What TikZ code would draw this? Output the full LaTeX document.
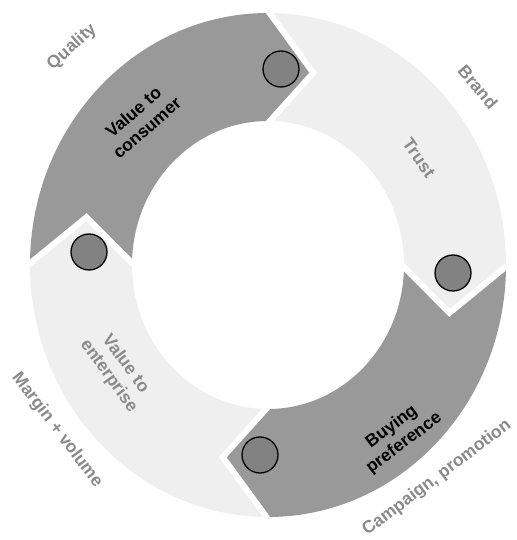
\documentclass[tikz,border=0pt]{standalone}
\usepackage{fontspec}
\setmainfont{Liberation Sans}
\definecolor{darkseg}{HTML}{999999}
\definecolor{lightseg}{HTML}{EFEFEF}
\definecolor{dotgrey}{HTML}{828282}
\definecolor{labgrey}{HTML}{8A8A8A}
\newcommand\ringseg[3]{%
  \fill[#3] (#1:\Ro) arc[start angle=#1,end angle=#2,radius=\Ro]
    -- (#2-\dd:\Rm) -- (#2:\Ri) arc[start angle=#2,end angle=#1,radius=\Ri]
    -- (#1-\dd:\Rm) -- cycle;}
\newcommand\ringgap[1]{%
  \draw[gapline] (#1:\Ro+2) -- (#1-\dd:\Rm) -- (#1:\Ri-2);}
\begin{document}
\begin{tikzpicture}[x=1pt,y=1pt,
  gapline/.style={draw=white,line width=6pt,line join=miter},
  dot/.style={circle,draw=black,line width=1.3pt,fill=dotgrey,minimum size=36pt,inner sep=0pt},
  inlab/.style={font=\bfseries\fontsize{17.5}{20.5}\selectfont,align=center},
  outlab/.style={font=\bfseries\fontsize{17.5}{19}\selectfont,text=labgrey}]
\useasboundingbox (0,0) rectangle (516,540);
\begin{scope}[shift={(268,275)},yscale=1.0588]
  \def\Ro{238}\def\Ri{136}\def\Rm{187}\def\dd{14}
  \ringseg{270}{180}{lightseg}
  \ringseg{180}{90}{darkseg}
  \ringseg{90}{0}{lightseg}
  \ringseg{360}{270}{darkseg}
  \ringgap{0}
  \ringgap{90}
  \ringgap{180}
  \ringgap{270}
\end{scope}
% circles
\node[dot] (d1) at (281,471) {};
\node[dot] (d2) at (453,267) {};
\node[dot] (d3) at (260,85) {};
\node[dot] (d4) at (89,288) {};
% inner labels
\node[inlab,rotate=41] (t1) at (140,420) {Value to\\consumer};
\node[inlab,rotate=-55,text=labgrey] (t2) at (419,382) {Trust};
\node[inlab,rotate=37] (t3) at (398,105) {Buying\\preference};
\node[inlab,rotate=-54,text=labgrey] (t4) at (117,170) {Value to\\enterprise};
% outer labels
\node[outlab,rotate=42] (o1) at (72,493) {Quality};
\node[outlab,rotate=-50] (o2) at (478,453) {Brand};
\node[outlab,rotate=37] (o3) at (437,62) {Campaign, promotion};
\node[outlab,rotate=-53] (o4) at (57,110) {Margin + volume};
\end{tikzpicture}
\end{document}
